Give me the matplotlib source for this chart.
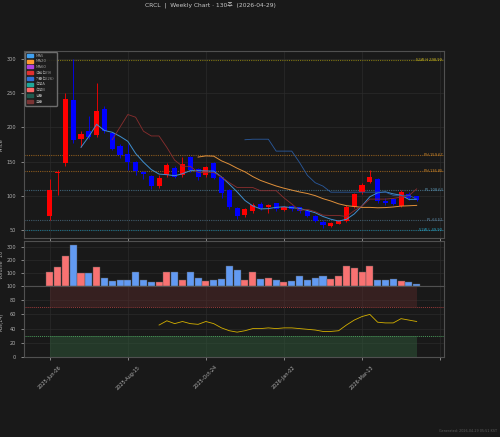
import matplotlib
matplotlib.use("Agg")
import matplotlib.pyplot as plt
import matplotlib.patches as mpatches
import numpy as np
import pandas as pd

plt.rcParams['font.family'] = ['DejaVu Sans', 'Noto Sans CJK KR']

# ---------------- data ----------------
dates = pd.date_range("2025-06-06", periods=48, freq="7D")
opens = [69.5, 133, 147.6, 240, 183, 195, 189, 227, 191.6, 173, 161, 150, 135, 129.5, 114.4, 130.5,
         141, 130.5, 156, 139, 130, 147.6, 127, 109, 82, 72, 77, 88, 83, 89, 79, 85,
         83, 77, 70.5, 62, 56, 59, 63.6, 83, 104.7, 119.8, 124, 92.4, 94.9, 85, 102.7, 98.8]
highs = [124, 138, 251, 299.9, 195.5, 217, 265, 231.5, 194, 175, 176, 151, 136, 131, 130.5, 147.6,
         143, 157, 158.3, 141, 144, 149, 128, 110, 84, 82, 89, 91, 88, 90, 85, 86,
         84, 78, 72, 64, 61, 65, 87, 104, 118, 138, 126, 96, 97, 109, 105, 100]
lows = [64, 101, 143.7, 177, 172, 183, 185.7, 191.6, 167, 155, 138, 130, 124, 110, 111, 127,
        125.7, 127, 134, 123, 128, 125, 96, 80, 65.6, 69, 74, 79, 75, 78, 77, 78,
        74, 69, 62, 52, 54, 58, 62, 82, 103, 118, 90, 86, 86, 84, 94, 92]
closes = [107.7, 134.5, 241.3, 181, 190, 186, 224.7, 195.5, 168.6, 160, 149.6, 135.5, 132, 114.4, 126.6, 145.2,
          128, 146.6, 137, 127, 142.7, 126.6, 104, 84, 70.5, 80, 86.6, 82, 86, 80, 84, 80,
          77, 70.5, 63.6, 56.5, 60, 63.6, 83, 102.7, 115.9, 127, 92.4, 90, 88, 106, 96.4, 93]
volumes = [107, 143, 233, 313, 100, 100, 143, 64, 42, 47, 45, 105, 45, 33, 33, 105,
           105, 45, 105, 60, 40, 45, 50, 150, 120, 45, 105, 50, 60, 45, 33, 40,
           75, 45, 65, 75, 50, 75, 150, 135, 105, 150, 45, 45, 50, 40, 30, 15]
rsi_vals = [45, 51, 47, 50, 47, 46, 50, 47, 41, 37, 35, 37, 40, 40, 41, 40,
            41, 41, 40, 39, 38, 36, 36, 37, 45, 52, 57, 60, 49, 48, 48, 54, 52, 50]
rsi_start = 14

level_names = ["52W H 298.99", "PH 159.67", "PH 136.85", "PL 108.63", "PL 64.51", "52W L 49.90"]
level_values = [298.99, 159.67, 136.85, 108.63, 64.51, 49.90]
level_line_colors = ["#7d7414", "#8a5a1e", "#8a5a1e", "#3f6478", "#3f5a6a", "#1e6f86"]
level_text_colors = ["#c8b41e", "#d38a2a", "#d38a2a", "#5f9ab8", "#5f8aa8", "#2aa6c8"]

legend_labels = ["MA5", "MA20", "MA60", "전환선(9)", "기준선(26)", "선행A", "선행B", "양운", "음운"]
legend_colors = ["#3fa0f0", "#ff9a2e", "#b040e0", "#e03030", "#2f6fd8", "#1fa89a", "#ff6666", "#1f5a4e", "#7a3434"]

title = "CRCL  |  Weekly Chart · 130주  (2026-04-29)"
footer = "Generated: 2026-04-29 05:51 KST"

# ---------------- derived series ----------------
df = pd.DataFrame({"o": opens, "h": highs, "l": lows, "c": closes, "v": volumes})
x = np.arange(len(df))
ma5 = df["c"].rolling(5).mean()
ma20 = df["c"].rolling(20).mean()
tenkan = (df["h"].rolling(9).max() + df["l"].rolling(9).min()) / 2
kijun = (df["h"].rolling(26).max() + df["l"].rolling(26).min()) / 2

BG = "#191919"
GRID = "#2b2b2b"
SPINE = "#505050"
TXT = "#b0b0b0"

fig = plt.figure(figsize=(5.0, 4.37), dpi=100, facecolor=BG)
L, W = 0.048, 0.84
ax1 = fig.add_axes([L, 0.4554, W, 0.4279])
ax2 = fig.add_axes([L, 0.3455, W, 0.1030], sharex=ax1)
ax3 = fig.add_axes([L, 0.1831, W, 0.1624], sharex=ax1)

for ax in (ax1, ax2, ax3):
    ax.set_facecolor(BG)
    for s in ax.spines.values():
        s.set_color(SPINE)
        s.set_linewidth(0.8)
    ax.tick_params(colors=TXT, labelsize=3.6, length=2, width=0.5)
    ax.grid(True, color=GRID, linewidth=0.5)
    ax.set_axisbelow(True)

up = df["c"] >= df["o"]
ccol = np.where(up, "#ff0000", "#0000ff")

# price panel
ax1.vlines(x, df["l"], df["h"], colors=ccol, linewidth=0.6, zorder=2)
ax1.bar(x, (df["c"] - df["o"]).abs().clip(lower=0.8), bottom=np.minimum(df["o"], df["c"]),
        width=0.65, color=ccol, zorder=3)
ax1.plot(x, ma5, color="#3f8fd0", linewidth=0.7, zorder=4)
ax1.plot(x, ma20, color="#e0903a", linewidth=0.7, zorder=4)
ax1.plot(x, tenkan, color="#8a2e2e", linewidth=0.6, zorder=4)
ax1.plot(x, kijun, color="#2a5a9e", linewidth=0.6, zorder=4)

for name, val, lc, tc in zip(level_names, level_values, level_line_colors, level_text_colors):
    ax1.axhline(val, color=lc, linestyle=(0, (1, 1)), linewidth=0.8, zorder=1)
    ax1.text(0.996, val, name, transform=ax1.get_yaxis_transform(), ha="right", va="center",
             fontsize=2.6, color=tc, zorder=5)

ax1.set_ylim(38, 312)
ax1.set_yticks([50, 100, 150, 200, 250, 300])
ax1.set_ylabel("Price", color=TXT, fontsize=3.8, labelpad=2)
handles = [mpatches.Patch(facecolor=c, edgecolor=c, label=l) for l, c in zip(legend_labels, legend_colors)]
leg = ax1.legend(handles=handles, loc="upper left", fontsize=2.8, frameon=True, facecolor="#1e1e1e",
                 edgecolor="#777777", framealpha=0.9, handlelength=1.6, handleheight=0.8,
                 labelspacing=0.45, borderpad=0.5, borderaxespad=0.2)
for t in leg.get_texts():
    t.set_color("#9a9a9a")
plt.setp(ax1.get_xticklabels(), visible=False)

# volume panel
vcol = np.where(up, "#f87272", "#629af2")
ax2.bar(x, df["v"], width=0.9, color=vcol, edgecolor="#555555", linewidth=0.3, zorder=3)
ax2.set_ylim(0, 345)
ax2.set_yticks([100, 200, 300])
ax2.set_ylabel("Volume  10⁶", color=TXT, fontsize=3.6, labelpad=2)
plt.setp(ax2.get_xticklabels(), visible=False)

# RSI panel
rx = np.arange(rsi_start, rsi_start + len(rsi_vals))
ax3.fill_between([x[0], x[-1]], 70, 100, color="#5a2a2a", alpha=0.45, linewidth=0, zorder=1)
ax3.fill_between([x[0], x[-1]], 0, 30, color="#2f5a3a", alpha=0.5, linewidth=0, zorder=1)
ax3.axhline(70, color="#9a3a3a", linestyle=(0, (1, 1)), linewidth=0.7, zorder=2)
ax3.axhline(30, color="#4a9a5a", linestyle=(0, (1, 1)), linewidth=0.7, zorder=2)
ax3.plot(rx, rsi_vals, color="#d4b000", linewidth=0.6, zorder=3)
ax3.set_ylim(0, 100)
ax3.set_yticks([0, 20, 40, 60, 80, 100])
ax3.set_ylabel("RSI(14)", color=TXT, fontsize=3.6, labelpad=2)

ticks = [0, 10, 20, 30, 40, 50]
labels = [dates[t].strftime("%Y-%b-%d") if t < len(dates) else "" for t in ticks]
ax3.set_xticks(ticks)
ax3.set_xticklabels(labels, rotation=45, ha="center", fontsize=3.6, color=TXT)
ax1.set_xlim(-3.3, 50.5)

fig.text(0.421, 0.986, title, ha="center", va="center", fontsize=4.3, color="#c8c8c8")
fig.text(0.994, 0.014, footer, ha="right", va="center", fontsize=2.4, color="#5a5a5a")

fig.savefig("out.png", dpi=100, facecolor=BG)
